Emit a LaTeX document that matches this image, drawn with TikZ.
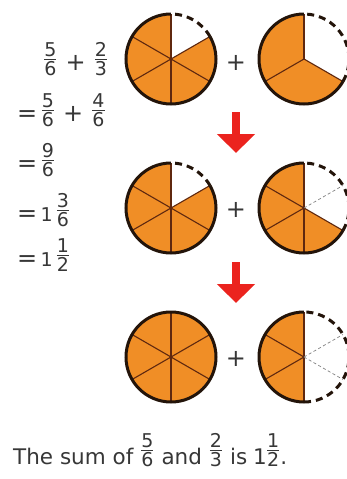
\documentclass[tikz,border=0pt]{standalone}
\usepackage{amsmath}
\usepackage{fontspec}
\setmainfont{DejaVu Sans}
\usetikzlibrary{arrows.meta}

\definecolor{pieorange}{RGB}{240,142,38}
\definecolor{rimbrown}{RGB}{35,20,10}
\definecolor{spokebrown}{RGB}{95,40,15}
\definecolor{inkgray}{RGB}{55,55,55}
\definecolor{arrowred}{RGB}{235,35,30}

% fraction with text digits, lifted so that its bar sits mid-line
\newcommand{\fr}[3][5.5pt]{\raisebox{#1}{$\genfrac{}{}{1.2pt}{1}{\text{\fontsize{19}{19}\selectfont #2}}{\text{\fontsize{19}{19}\selectfont #3}}$}}
\newcommand{\op}[1]{{\fontsize{24}{24}\selectfont #1}}
\newcommand{\one}{{\fontsize{19}{19}\selectfont 1}}

% pie: centre, end angle of the orange part, solid spokes, dashed spokes
\newcommand{\pie}[4]{%
  \fill[pieorange] (#1) -- ++(90:45) arc[start angle=90, end angle=#2, radius=45pt] -- cycle;
  \foreach \a in {#3} \draw[spoke] (#1) -- ++(\a:45);
  \foreach \a in {#4} \draw[ghost] (#1) -- ++(\a:45);
  \draw[rim] (#1) ++(90:45) arc[start angle=90, end angle=#2, radius=45pt];
  \ifnum#2<450 \draw[rim, dash pattern=on 7pt off 5pt] (#1) ++(#2:45) arc[start angle=#2, end angle=450, radius=45pt];\fi
}

\tikzset{
  spoke/.style={spokebrown, line width=1.1pt},
  ghost/.style={gray, line width=0.7pt, dash pattern=on 3pt off 2.5pt},
  rim/.style={rimbrown, line width=3pt},
  plus/.style={inkgray, font=\fontsize{24}{24}\selectfont},
  sumline/.style={inkgray, anchor=base west, font=\fontsize{20}{20}\selectfont, inner sep=0pt},
  bigarrow/.style={arrowred, line width=8pt, -{Triangle[width=37pt, length=19pt]}}
}

\begin{document}
\begin{tikzpicture}[x=1pt, y=1pt]
  \useasboundingbox (0,0) rectangle (346,-479);

  % pie centres
  \coordinate (c11) at (171,-59);  \coordinate (c12) at (304,-59);
  \coordinate (c21) at (171,-208); \coordinate (c22) at (304,-208);
  \coordinate (c31) at (171,-357); \coordinate (c32) at (304,-357);

  % row 1: 5/6 + 2/3
  \pie{c11}{390}{90,150,210,270,330,30}{}
  \pie{c12}{330}{90,210,330}{}
  % row 2: 5/6 + 4/6
  \pie{c21}{390}{90,150,210,270,330,30}{}
  \pie{c22}{330}{90,150,210,270,330}{30}
  % row 3: 6/6 + 3/6
  \pie{c31}{450}{90,150,210,270,330,30}{}
  \pie{c32}{270}{90,150,210,270}{30,-30}

  \node[plus] (p1) at (236,-63) {+};
  \node[plus] (p2) at (236,-210) {+};
  \node[plus] (p3) at (236,-359) {+};

  % red arrows
  \coordinate (a1s) at (236,-112); \coordinate (a1e) at (236,-153);
  \coordinate (a2s) at (236,-262); \coordinate (a2e) at (236,-303);
  \draw[bigarrow] (a1s) -- (a1e);
  \draw[bigarrow] (a2s) -- (a2e);

  % working
  \node[sumline] (l1) at (43,-70) {\fr56\hspace{8pt}\op{+}\hspace{8pt}\fr23};
  \node[sumline] (l2) at (17,-121) {\op{=}\,\fr56\hspace{8pt}\op{+}\hspace{8pt}\fr46};
  \node[sumline] (l3) at (17,-171) {\op{=}\,\fr96};
  \node[sumline] (l4) at (17,-221) {\op{=}\,\one\hspace{3pt}\fr36};
  \node[sumline] (l5) at (17,-266) {\op{=}\,\one\hspace{3pt}\fr12};

  \node[inkgray, anchor=base west, inner sep=0pt, font=\fontsize{21.5}{21.5}\selectfont] (sum) at (13,-464)
    {The sum of \fr[8pt]56 and \fr[8pt]23 is\hspace{-1pt} 1\hspace{-1pt}\fr[8pt]12.};
\end{tikzpicture}
\end{document}
